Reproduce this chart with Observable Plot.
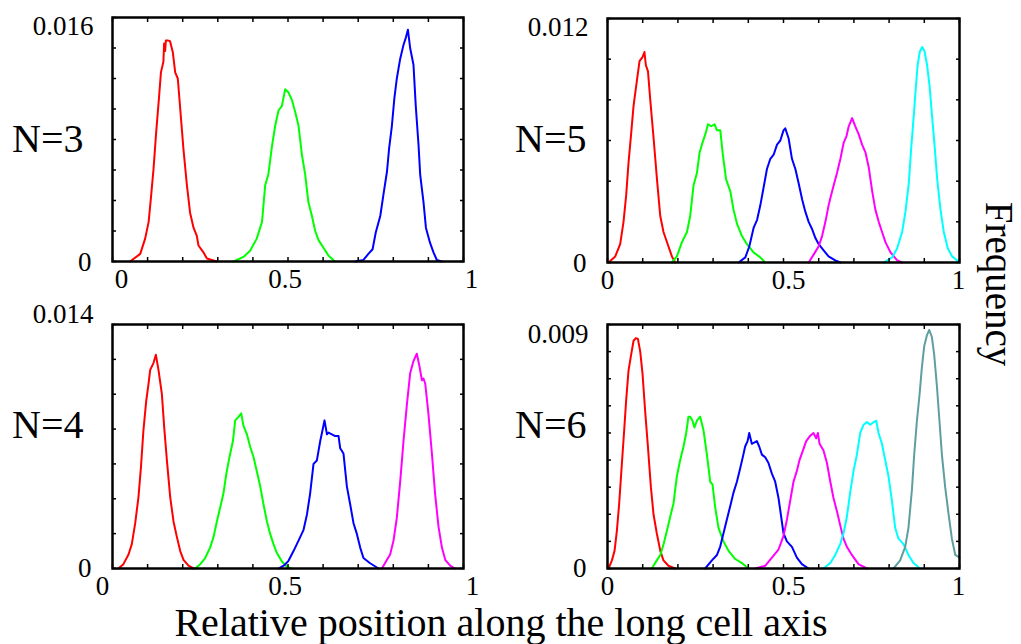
<!DOCTYPE html>
<html><head><meta charset="utf-8">
<script src="https://cdn.jsdelivr.net/npm/d3@7"></script>
<script src="https://cdn.jsdelivr.net/npm/@observablehq/plot@0.6"></script>
<style>
body{margin:0;background:#fff;}
#wrap{position:relative;width:1021px;height:644px;overflow:hidden;background:#fff;font-family:'Liberation Serif', 'Times New Roman', serif;}
#wrap svg{position:absolute;}
#wrap svg text{font-family:'Liberation Serif', 'Times New Roman', serif;}
</style></head><body><div id="wrap"></div>
<script>
// ---------------- data ----------------
const panelNames = ["N=3", "N=5", "N=4", "N=6"];
const yMax = [0.016, 0.012, 0.014, 0.009];
const yTopLabels = ["0.016", "0.012", "0.014", "0.009"];
const yStep = [0.002, 0.002, 0.002, 0.001];
const xTickValues = [0, 0.5, 1];
const xTickLabels = ["0", "0.5", "1"];
const xLabel = "Relative position along the long cell axis";
const yLabel = "Frequency";

const n3Red = [[0.050,0],[0.079,0.0005],[0.093,0.0015],[0.103,0.0026],[0.110,0.0043],[0.117,0.0061],[0.1245,0.0085],[0.133,0.0109],[0.138,0.0124],[0.145,0.0131],[0.147,0.0143],[0.150,0.0138],[0.152,0.0145],[0.157,0.0145],[0.164,0.01445],[0.172,0.0137],[0.1786,0.0124],[0.186,0.0120],[0.193,0.0100],[0.202,0.0074],[0.212,0.0050],[0.221,0.0032],[0.231,0.0022],[0.240,0.0017],[0.245,0.00105],[0.259,0.0006],[0.269,0.0002],[0.297,0]];
const n3Green = [[0.345,0],[0.373,0.0003],[0.392,0.0007],[0.411,0.0015],[0.426,0.0026],[0.435,0.0050],[0.444,0.0057],[0.454,0.0075],[0.4635,0.0089],[0.473,0.0099],[0.4826,0.0102],[0.492,0.0113],[0.501,0.0111],[0.511,0.0106],[0.5205,0.0098],[0.530,0.0089],[0.5396,0.0070],[0.549,0.0057],[0.558,0.0039],[0.568,0.0030],[0.5775,0.0020],[0.587,0.0014],[0.601,0.0009],[0.615,0.0004],[0.634,0]];
const n3Blue = [[0.691,0],[0.715,0.0001],[0.729,0.0005],[0.741,0.0008],[0.750,0.0019],[0.763,0.0030],[0.772,0.0044],[0.782,0.0059],[0.788,0.0074],[0.796,0.0089],[0.803,0.0107],[0.810,0.0120],[0.8197,0.0133],[0.829,0.0142],[0.836,0.0147],[0.8416,0.0152],[0.848,0.0140],[0.8575,0.0129],[0.864,0.0102],[0.872,0.0076],[0.8766,0.0057],[0.886,0.0039],[0.893,0.0022],[0.905,0.0012],[0.9145,0.0006],[0.924,0.0001],[0.938,0]];

const n5Red = [[0.003,0],[0.022,0.0003],[0.036,0.0009],[0.0455,0.0020],[0.053,0.0033],[0.0597,0.0049],[0.067,0.0063],[0.074,0.0077],[0.0816,0.0087],[0.091,0.0099],[0.0995,0.0101],[0.105,0.01035],[0.109,0.0097],[0.115,0.0094],[0.121,0.0081],[0.131,0.0061],[0.1405,0.0041],[0.1498,0.0023],[0.159,0.0015],[0.173,0.0008],[0.183,0.0003],[0.1925,0]];
const n5Green = [[0.183,0],[0.197,0.0003],[0.2115,0.0010],[0.2258,0.0015],[0.235,0.0023],[0.2445,0.0038],[0.254,0.0044],[0.2616,0.0054],[0.270,0.0059],[0.2778,0.0063],[0.2855,0.0068],[0.295,0.0067],[0.304,0.0068],[0.311,0.0065],[0.3205,0.0065],[0.327,0.0054],[0.3367,0.0041],[0.349,0.0035],[0.358,0.0026],[0.368,0.0019],[0.382,0.0013],[0.396,0.0009],[0.415,0.0005],[0.434,0.00025],[0.448,0]];
const n5Blue = [[0.3725,0],[0.3915,0.00025],[0.403,0.0008],[0.415,0.0017],[0.425,0.0021],[0.434,0.0028],[0.4436,0.0037],[0.453,0.0046],[0.4626,0.0051],[0.472,0.0053],[0.4816,0.0058],[0.491,0.0060],[0.500,0.0065],[0.505,0.0066],[0.5146,0.0061],[0.524,0.0051],[0.5337,0.0046],[0.543,0.0039],[0.553,0.0031],[0.562,0.0025],[0.5715,0.0020],[0.581,0.00165],[0.5906,0.0012],[0.600,0.0009],[0.614,0.0006],[0.628,0.0003],[0.647,0.0001],[0.662,0]];
const n5Magenta = [[0.5715,0],[0.586,0.0004],[0.600,0.0008],[0.6096,0.0013],[0.619,0.0020],[0.628,0.0028],[0.635,0.0033],[0.6426,0.0038],[0.652,0.0044],[0.6617,0.0051],[0.671,0.0059],[0.6787,0.0062],[0.6853,0.0067],[0.695,0.0071],[0.704,0.0067],[0.7137,0.0063],[0.7233,0.0058],[0.733,0.0054],[0.742,0.0047],[0.752,0.0035],[0.761,0.0026],[0.7705,0.0020],[0.780,0.0015],[0.7896,0.0010],[0.804,0.0005],[0.823,0.0001],[0.837,0]];
const n5Cyan = [[0.785,0],[0.8086,0.00025],[0.823,0.0007],[0.837,0.0015],[0.8465,0.0025],[0.856,0.0039],[0.8627,0.0056],[0.870,0.0072],[0.875,0.0084],[0.881,0.0097],[0.887,0.01035],[0.894,0.0106],[0.9005,0.0104],[0.908,0.0097],[0.9155,0.0086],[0.922,0.0072],[0.929,0.0058],[0.9366,0.0041],[0.946,0.0026],[0.9554,0.0015],[0.9667,0.0007],[0.979,0.0003],[0.9935,0.0001],[1,0]];

const n4Red = [[0.017,0],[0.031,0.00025],[0.0456,0.0008],[0.055,0.0014],[0.0647,0.0026],[0.074,0.0041],[0.081,0.0058],[0.088,0.0079],[0.096,0.0096],[0.1026,0.0106],[0.1074,0.0114],[0.117,0.0118],[0.1236,0.01226],[0.131,0.0114],[0.1407,0.0100],[0.1473,0.0081],[0.155,0.0062],[0.1644,0.0041],[0.1738,0.0027],[0.1835,0.0018],[0.193,0.0010],[0.2023,0.0005],[0.2165,0.00016],[0.231,0]];
const n4Green = [[0.2356,0],[0.25,0.00025],[0.264,0.0006],[0.278,0.0012],[0.2877,0.0018],[0.2974,0.0027],[0.3068,0.0035],[0.316,0.0043],[0.324,0.0054],[0.3333,0.0064],[0.343,0.0073],[0.3496,0.0085],[0.359,0.0087],[0.3667,0.0089],[0.373,0.0082],[0.383,0.0077],[0.392,0.0070],[0.4017,0.0064],[0.411,0.0056],[0.421,0.0047],[0.430,0.0037],[0.44,0.0027],[0.449,0.0020],[0.4587,0.0014],[0.468,0.0009],[0.4826,0.0004],[0.497,0.0001],[0.51,0]];
const n4Blue = [[0.473,0],[0.49,0.0002],[0.5014,0.00044],[0.5157,0.0010],[0.53,0.0016],[0.544,0.0022],[0.554,0.0031],[0.563,0.0043],[0.5727,0.0060],[0.5823,0.0062],[0.5917,0.0073],[0.598,0.0079],[0.604,0.0085],[0.611,0.0077],[0.6154,0.0078],[0.625,0.0077],[0.6345,0.0076],[0.644,0.0076],[0.6487,0.0069],[0.658,0.0066],[0.6678,0.0047],[0.677,0.0037],[0.6866,0.0026],[0.696,0.0020],[0.7057,0.0012],[0.715,0.0006],[0.734,0.0003],[0.758,0]];
const n4Magenta = [[0.7675,0],[0.782,0.0005],[0.791,0.0008],[0.8006,0.0016],[0.810,0.0029],[0.8197,0.0050],[0.829,0.0073],[0.8387,0.0094],[0.848,0.0112],[0.8575,0.0119],[0.867,0.01232],[0.8746,0.0116],[0.8815,0.0108],[0.886,0.0109],[0.891,0.0106],[0.900,0.0089],[0.91,0.0066],[0.919,0.0043],[0.9288,0.0024],[0.9385,0.0012],[0.948,0.0005],[0.962,0.00016],[0.976,0]];

const n6Red = [[0.003,0],[0.0125,0.0003],[0.02,0.00065],[0.0267,0.0014],[0.0332,0.0024],[0.041,0.0039],[0.0474,0.0051],[0.053,0.0062],[0.0597,0.0073],[0.0673,0.0079],[0.074,0.0084],[0.0807,0.0085],[0.0864,0.00847],[0.093,0.0080],[0.0994,0.0072],[0.107,0.0058],[0.1148,0.0045],[0.1233,0.0030],[0.1307,0.0020],[0.140,0.0013],[0.15,0.00065],[0.159,0.0003],[0.173,0.0001],[0.192,0]];
const n6Green = [[0.126,0],[0.140,0.0003],[0.15,0.0005],[0.1594,0.0009],[0.169,0.0014],[0.178,0.0019],[0.1875,0.0024],[0.197,0.0034],[0.2065,0.0040],[0.216,0.0045],[0.2236,0.0050],[0.230,0.0056],[0.235,0.0056],[0.2415,0.00545],[0.247,0.0052],[0.254,0.00545],[0.2633,0.0056],[0.2727,0.0051],[0.2824,0.0042],[0.2918,0.0032],[0.2983,0.0031],[0.306,0.00225],[0.3153,0.0015],[0.3295,0.0010],[0.344,0.00065],[0.363,0.00035],[0.382,0.0002],[0.4,0]];
const n6Blue = [[0.2775,0],[0.2966,0.0003],[0.311,0.0005],[0.320,0.0008],[0.3295,0.0013],[0.339,0.0018],[0.3486,0.0023],[0.358,0.0028],[0.3676,0.0032],[0.377,0.0037],[0.386,0.0042],[0.391,0.0045],[0.398,0.0047],[0.4026,0.0050],[0.410,0.0046],[0.4177,0.00465],[0.4244,0.0047],[0.431,0.0045],[0.4386,0.0042],[0.448,0.0041],[0.457,0.0039],[0.467,0.0035],[0.4764,0.0032],[0.4858,0.0026],[0.4935,0.0019],[0.5,0.0013],[0.5097,0.0010],[0.524,0.0008],[0.538,0.0004],[0.5523,0.00016],[0.571,0]];
const n6Magenta = [[0.42,0],[0.448,0.0001],[0.467,0.0004],[0.4858,0.0007],[0.5,0.0012],[0.5097,0.0018],[0.519,0.0025],[0.5284,0.0032],[0.538,0.0036],[0.5455,0.0040],[0.555,0.00435],[0.5645,0.0047],[0.576,0.0049],[0.585,0.0050],[0.5929,0.0048],[0.5977,0.0050],[0.6025,0.0046],[0.6136,0.00435],[0.6233,0.0039],[0.633,0.0032],[0.642,0.0026],[0.652,0.0021],[0.661,0.0016],[0.6705,0.0011],[0.680,0.0008],[0.6943,0.0005],[0.713,0.00016],[0.737,0]];
const n6Cyan = [[0.6136,0],[0.633,0.0002],[0.647,0.0005],[0.661,0.0009],[0.6705,0.0013],[0.680,0.0019],[0.6894,0.0028],[0.699,0.0036],[0.7085,0.0042],[0.718,0.0050],[0.7273,0.0053],[0.737,0.0054],[0.7466,0.0053],[0.756,0.0054],[0.7636,0.00545],[0.770,0.0050],[0.7796,0.0046],[0.789,0.0040],[0.7983,0.0034],[0.808,0.0025],[0.8173,0.0015],[0.8267,0.0011],[0.841,0.0009],[0.855,0.0005],[0.8693,0.0002],[0.888,0]];
const n6Gray = [[0.8125,0],[0.8314,0.0003],[0.8457,0.0008],[0.855,0.0015],[0.8648,0.0029],[0.8713,0.0042],[0.879,0.00545],[0.8864,0.0064],[0.893,0.0074],[0.8997,0.0082],[0.9074,0.0086],[0.914,0.0088],[0.9216,0.00853],[0.928,0.0079],[0.936,0.0067],[0.943,0.00545],[0.95,0.0042],[0.9593,0.0030],[0.969,0.0020],[0.9784,0.0011],[0.988,0.0005],[1,0.0004]];

const panelSeries = [
  [n3Red, n3Green, n3Blue],
  [n5Red, n5Green, n5Blue, n5Magenta, n5Cyan],
  [n4Red, n4Green, n4Blue, n4Magenta],
  [n6Red, n6Green, n6Blue, n6Magenta, n6Cyan, n6Gray]
];

// ---------------- styling / layout ----------------
const colors = ["#ff0000", "#00ff00", "#0000ff", "#ff00ff", "#00ffff", "#5f9ea0"];
const FONT = "'Liberation Serif', 'Times New Roman', serif";
const layout = [
  {left: 0,   top: 0,   m: [17, 37, 39, 112], topDy: 9,   zeroDy: 1, xdx: [9, -3, 8],  labelX: 12,  labelY: 152},
  {left: 500, top: 0,   m: [18, 41, 38, 107], topDy: 9,   zeroDy: 1, xdx: [0, 5, -1],  labelX: 515, labelY: 152},
  {left: 0,   top: 300, m: [24, 37, 32, 112], topDy: -10, zeroDy: 0, xdx: [-10, -3, 9], labelX: 12,  labelY: 438},
  {left: 500, top: 300, m: [24, 41, 32, 107], topDy: 9.5, zeroDy: 0, xdx: [0, 5, -1],  labelX: 515, labelY: 438}
];

const wrap = document.getElementById("wrap");

panelSeries.forEach((series, p) => {
  const L = layout[p];
  const ymax = yMax[p];
  const yTicks = d3.range(0, Math.round(ymax / yStep[p]) + 1).map(i => i * yStep[p]);
  const xTicks = d3.range(0, 11).map(i => i / 10);
  const rows = series.map((pts, s) => pts.map(([x, y]) => ({x, y, s})));
  const marks = [];
  rows.forEach((r, s) => marks.push(Plot.line(r, {x: "x", y: "y", stroke: colors[s], strokeWidth: 2})));
  // inward minor ticks on all four sides
  const blank = () => "";
  marks.push(Plot.axisX(xTicks, {anchor: "bottom", tickSize: -4, tickFormat: blank, strokeWidth: 1.5}));
  marks.push(Plot.axisX(xTicks, {anchor: "top", tickSize: -4, tickFormat: blank, strokeWidth: 1.5}));
  marks.push(Plot.axisY(yTicks, {anchor: "left", tickSize: -4, tickFormat: blank, strokeWidth: 1.5}));
  marks.push(Plot.axisY(yTicks, {anchor: "right", tickSize: -4, tickFormat: blank, strokeWidth: 1.5}));
  // tick labels
  xTickValues.forEach((v, i) => {
    marks.push(Plot.axisX([v], {anchor: "bottom", tickSize: 0, tickPadding: 7, dx: L.xdx[i], fontSize: 27, fontFamily: FONT, tickFormat: () => xTickLabels[i]}));
  });
  marks.push(Plot.axisY([0], {anchor: "left", tickSize: 0, tickPadding: 21, dy: L.zeroDy, fontSize: 27, fontFamily: FONT, tickFormat: () => "0"}));
  marks.push(Plot.axisY([ymax], {anchor: "left", tickSize: 0, tickPadding: 19, dy: L.topDy, fontSize: 27, fontFamily: FONT, tickFormat: () => yTopLabels[p]}));
  marks.push(Plot.frame({stroke: "#000", strokeWidth: 2.5}));

  const svg = Plot.plot({
    width: 500, height: 300,
    marginTop: L.m[0], marginRight: L.m[1], marginBottom: L.m[2], marginLeft: L.m[3],
    x: {domain: [0, 1], label: null},
    y: {domain: [0, ymax], label: null},
    style: {fontFamily: FONT, fontSize: "27px", background: "transparent", color: "#000", overflow: "visible"},
    marks
  });
  svg.style.left = L.left + "px";
  svg.style.top = L.top + "px";
  wrap.appendChild(svg);
});

// overlay with panel names and axis titles
const over = d3.create("svg")
  .attr("width", 1021).attr("height", 644)
  .attr("font-family", "Liberation Serif")
  .style("left", "0px").style("top", "0px")
  .style("pointer-events", "none");
layout.forEach((L, p) => {
  over.append("text").attr("x", L.labelX).attr("y", L.labelY)
    .attr("font-size", 40).attr("fill", "#000").text(panelNames[p]);
});
over.append("text").attr("x", 501).attr("y", 636).attr("text-anchor", "middle")
  .attr("font-size", 40).attr("fill", "#000").text(xLabel);
over.append("text").attr("transform", "translate(986,284) rotate(90)").attr("text-anchor", "middle")
  .attr("font-size", 39).attr("fill", "#000").text(yLabel);
wrap.appendChild(over.node());
</script>
</body></html>
